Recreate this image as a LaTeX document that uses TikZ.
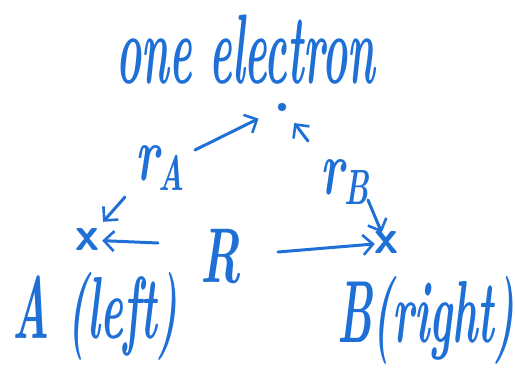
\documentclass[tikz,border=0pt]{standalone}
\usepackage{tikz}
\usetikzlibrary{arrows.meta}
\definecolor{ink}{RGB}{30,112,215}
\tikzset{
  hand label/.style={
    text=ink, inner sep=0pt, font=\fontsize{43}{50}\selectfont\bfseries\itshape
  },
  big label/.style={
    hand label, font=\fontsize{47}{54}\selectfont\bfseries\itshape
  },
  cross mark/.style={
    text=ink, inner sep=1pt, font=\fontsize{48}{48}\selectfont\sffamily\bfseries
  },
  electron dot/.style={
    circle, fill=ink, draw=ink, inner sep=0pt, minimum size=8pt
  },
  vec/.style={
    draw=ink, line width=3pt, line cap=round,
    -{Straight Barb[length=10pt,width=20pt,line width=2.6pt]}
  }
}
\newcommand{\tall}[1]{\scalebox{1}[2.05]{#1}}
\newcommand{\dist}[1]{\scalebox{1}[1.65]{r\raisebox{-0.12em}{\fontsize{30}{30}\selectfont #1}}}

\begin{document}
\begin{tikzpicture}[x=1pt,y=-1pt]
\useasboundingbox (0,0) rectangle (515,382);
% ------------------------------------------------
% electron on top, the two nuclei below
% ------------------------------------------------
\node[hand label] (title) at (246,50) {\scalebox{0.99}[2.3]{one electron}};
\node[electron dot] (e) at (282,107) {};

\node[cross mark] (A) at (87,240) {x};
\node[cross mark] (B) at (386,243) {x};
\node[hand label] (Alab) at (95,316) {\tall{A (left)}};
\node[hand label] (Blab) at (426,320) {\tall{B(right)}};

% ------------------------------------------------
% distances r_A, r_B and R
% ------------------------------------------------
\node[big label] (rA) at (160,168) {\dist{A}};
\node[big label] (rB) at (345,182) {\dist{B}};
\node[big label] (R)  at (221,257) {\scalebox{1}[1.65]{R}};

\coordinate (rAup) at (195,150);
\coordinate (rAdn) at (125,197);
\coordinate (rBup) at (308,141);
\coordinate (rBdn) at (368,200);
\coordinate (RL)   at (158,243);
\coordinate (RR)   at (278,252);

\draw[vec, shorten >=22pt] (rAup) -- (e);
\draw[vec, shorten >=8pt]  (rAdn) -- (A);
\draw[vec, shorten >=16pt] (rBup) -- (e);
\draw[vec, shorten >=-2pt] (rBdn) -- (B);
\draw[vec, shorten >=2pt]  (RL) -- (A);
\draw[vec, shorten >=-2pt] (RR) -- (B);
\end{tikzpicture}
\end{document}
